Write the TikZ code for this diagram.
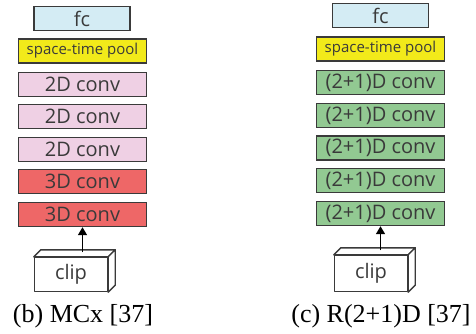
\documentclass[tikz,border=0pt]{standalone}
\usepackage{fontspec}
\setmainfont{Liberation Serif}
\newfontfamily\boxfont{Open Sans}
\usetikzlibrary{arrows.meta,calc}
\definecolor{fcblue}{HTML}{D4ECF4}
\definecolor{poolyellow}{HTML}{F2EA1A}
\definecolor{convpink}{HTML}{EFD0E4}
\definecolor{convred}{HTML}{EE6767}
\definecolor{convgreen}{HTML}{92C992}
\definecolor{edgegray}{HTML}{3A3A3A}
\definecolor{textgray}{HTML}{3A3A3A}
\tikzset{
  layer/.style={draw=edgegray, line width=1.4pt, inner sep=0pt, text=textgray,
    font=\boxfont\fontsize{20}{21}\selectfont, minimum width=128pt, minimum height=24pt},
  fcbox/.style={layer, fill=fcblue, minimum width=96pt},
  poolbox/.style={layer, fill=poolyellow, font=\boxfont\fontsize{15}{16}\selectfont},
  pinkbox/.style={layer, fill=convpink},
  redbox/.style={layer, fill=convred},
  greenbox/.style={layer, fill=convgreen},
  clipface/.style={draw=edgegray, line width=1.4pt, fill=white, line join=round},
  clipbox/.style={clipface, inner sep=0pt, text=textgray, font=\boxfont\fontsize{20}{21}\selectfont, minimum width=73pt},
  feed/.style={draw=black, line width=1.5pt, -{Triangle[length=8pt,width=9pt]}},
  caption/.style={font=\fontsize{26}{28}\selectfont, text=black}
}
\begin{document}
\begin{tikzpicture}[x=1pt,y=-1pt]
\useasboundingbox (0,0) rectangle (476,334);
% left column
\node[fcbox] (fcL) at (82,18.5) {fc};
\node[poolbox] (poolL) at (82.5,51) {space-time pool};
\node[pinkbox] (c1L) at (82.5,84.5) {2D conv};
\node[pinkbox] (c2L) at (82.5,116.5) {2D conv};
\node[pinkbox] (c3L) at (82.5,149.5) {2D conv};
\node[redbox] (c4L) at (82.5,181.5) {3D conv};
\node[redbox] (c5L) at (82.5,214.5) {3D conv};
\node[clipbox, minimum height=34pt] (clipL) at (71,274.5) {clip};
\draw[clipface] (clipL.north west) -- ++(7pt,7pt) -- ($(clipL.north east)+(7pt,7pt)$) -- (clipL.north east) -- cycle;
\draw[clipface] (clipL.north east) -- ++(7pt,7pt) -- ($(clipL.south east)+(7pt,7pt)$) -- (clipL.south east) -- cycle;
\coordinate (inL) at ($(c5L.south |- clipL.north)+(0,-4.5)$);
\draw[feed] (inL) -- (c5L.south);
\node[caption] (capL) at (83,316) {(b) MCx [37]};
% right column
\node[fcbox] (fcR) at (380.5,15.5) {fc};
\node[poolbox] (poolR) at (380.5,49) {space-time pool};
\node[greenbox] (c1R) at (380.5,82.5) {(2+1)D conv};
\node[greenbox] (c2R) at (380.5,115.5) {(2+1)D conv};
\node[greenbox] (c3R) at (380.5,148) {(2+1)D conv};
\node[greenbox] (c4R) at (380.5,180.5) {(2+1)D conv};
\node[greenbox] (c5R) at (380.5,213.5) {(2+1)D conv};
\node[clipbox, minimum height=36pt] (clipR) at (371,273.5) {clip};
\draw[clipface] (clipR.north west) -- ++(7pt,7pt) -- ($(clipR.north east)+(7pt,7pt)$) -- (clipR.north east) -- cycle;
\draw[clipface] (clipR.north east) -- ++(7pt,7pt) -- ($(clipR.south east)+(7pt,7pt)$) -- (clipR.south east) -- cycle;
\coordinate (inR) at ($(c5R.south |- clipR.north)+(0,-4.5)$);
\draw[feed] (inR) -- (c5R.south);
\node[caption] (capR) at (381,316) {(c) R(2+1)D [37]};
\end{tikzpicture}
\end{document}
